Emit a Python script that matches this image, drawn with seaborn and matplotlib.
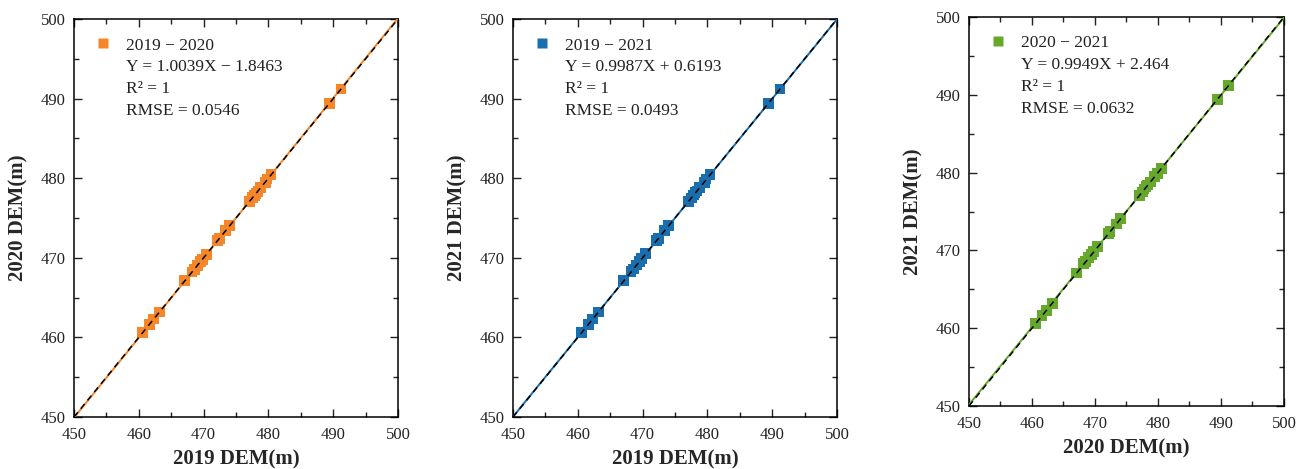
import numpy as np
import pandas as pd
import matplotlib
matplotlib.use("Agg")
import matplotlib.pyplot as plt
import seaborn as sns
from matplotlib.ticker import MultipleLocator
from matplotlib.lines import Line2D

# Surveyed elevations (m) at the check points for each year
dem_2019 = [460.6, 461.6, 462.3, 463.2, 467.1, 468.2, 468.6, 469.0, 469.5, 469.8,
            470.4, 472.2, 472.5, 473.4, 474.0, 477.1, 477.5, 477.8, 478.1, 478.4,
            478.8, 479.5, 479.8, 480.4, 489.4, 491.2]
dem_2020 = [460.6, 461.6, 462.3, 463.2, 467.1, 468.2, 468.5, 469.0, 469.5, 469.8,
            470.4, 472.2, 472.4, 473.4, 474.1, 477.1, 477.6, 477.8, 478.1, 478.3,
            478.8, 479.5, 479.9, 480.5, 489.4, 491.2]
dem_2021 = [460.6, 461.6, 462.3, 463.2, 467.1, 468.3, 468.6, 469.1, 469.5, 469.9,
            470.5, 472.2, 472.4, 473.4, 474.1, 477.1, 477.5, 477.9, 478.2, 478.4,
            478.8, 479.5, 479.9, 480.5, 489.4, 491.2]

pair_labels = ["2019 − 2020", "2019 − 2021", "2020 − 2021"]
slopes = [1.0039, 0.9987, 0.9949]
intercepts = [-1.8463, 0.6193, 2.464]
fit_texts = ["Y = 1.0039X − 1.8463", "Y = 0.9987X + 0.6193", "Y = 0.9949X + 2.464"]
r2_texts = ["R² = 1", "R² = 1", "R² = 1"]
rmse_texts = ["RMSE = 0.0546", "RMSE = 0.0493", "RMSE = 0.0632"]
x_labels = ["2019 DEM(m)", "2019 DEM(m)", "2020 DEM(m)"]
y_labels = ["2020 DEM(m)", "2021 DEM(m)", "2021 DEM(m)"]
colors = ["#F5862A", "#1A6EAD", "#65A82C"]

pairs = [(dem_2019, dem_2020), (dem_2019, dem_2021), (dem_2020, dem_2021)]

sns.set_theme(style="ticks")
plt.rcParams["font.family"] = ["Liberation Serif", "DejaVu Serif"]

fig = plt.figure(figsize=(13.05, 4.69), dpi=100)
rects = [
    [0.0567, 0.1109, 0.2483, 0.8486],
    [0.3931, 0.1109, 0.2483, 0.8486],
    [0.7425, 0.1343, 0.2414, 0.8294],
]

for i, (xs, ys) in enumerate(pairs):
    ax = fig.add_axes(rects[i])
    df = pd.DataFrame({"x": xs, "y": ys})
    sns.scatterplot(data=df, x="x", y="y", ax=ax, marker="s", s=60,
                    color=colors[i], edgecolor="none", zorder=3, legend=False)

    line_x = np.array([450.0, 500.0])
    fit_df = pd.DataFrame({"x": line_x, "y": slopes[i] * line_x + intercepts[i]})
    sns.lineplot(data=fit_df, x="x", y="y", ax=ax, color=colors[i], lw=1.4, zorder=4)
    ax.plot(line_x, line_x, color="black", lw=1.1, ls=(0, (4, 3)), zorder=5)

    ax.set_xlim(450, 500)
    ax.set_ylim(450, 500)
    ax.xaxis.set_major_locator(MultipleLocator(10))
    ax.yaxis.set_major_locator(MultipleLocator(10))
    ax.xaxis.set_minor_locator(MultipleLocator(5))
    ax.yaxis.set_minor_locator(MultipleLocator(5))
    ax.tick_params(which="both", direction="in", top=True, right=True,
                   labelsize=12, colors="#222222", width=1.0)
    ax.tick_params(axis="x", which="major", pad=7)
    ax.tick_params(axis="y", which="major", pad=6)
    ax.tick_params(which="major", length=6)
    ax.tick_params(which="minor", length=3.5)
    for sp in ax.spines.values():
        sp.set_linewidth(1.1)
        sp.set_color("black")

    ax.set_xlabel(x_labels[i], fontsize=15, fontweight="bold", labelpad=5)
    ax.set_ylabel(y_labels[i], fontsize=15, fontweight="bold", labelpad=9)

    handles = [Line2D([], [], ls="none", marker="s", markersize=6.5,
                      color=colors[i], markeredgecolor="none")]
    handles += [Line2D([], [], ls="none", marker=None) for _ in range(3)]
    labels = [pair_labels[i], fit_texts[i], r2_texts[i], rmse_texts[i]]
    ax.legend(handles, labels, loc="upper left", bbox_to_anchor=(0.03, 0.98),
              frameon=False, fontsize=12.5, handlelength=1.0, handletextpad=0.85,
              labelspacing=0.33, borderaxespad=0.2, labelcolor="#222222")

fig.savefig("out.png", dpi=100)
